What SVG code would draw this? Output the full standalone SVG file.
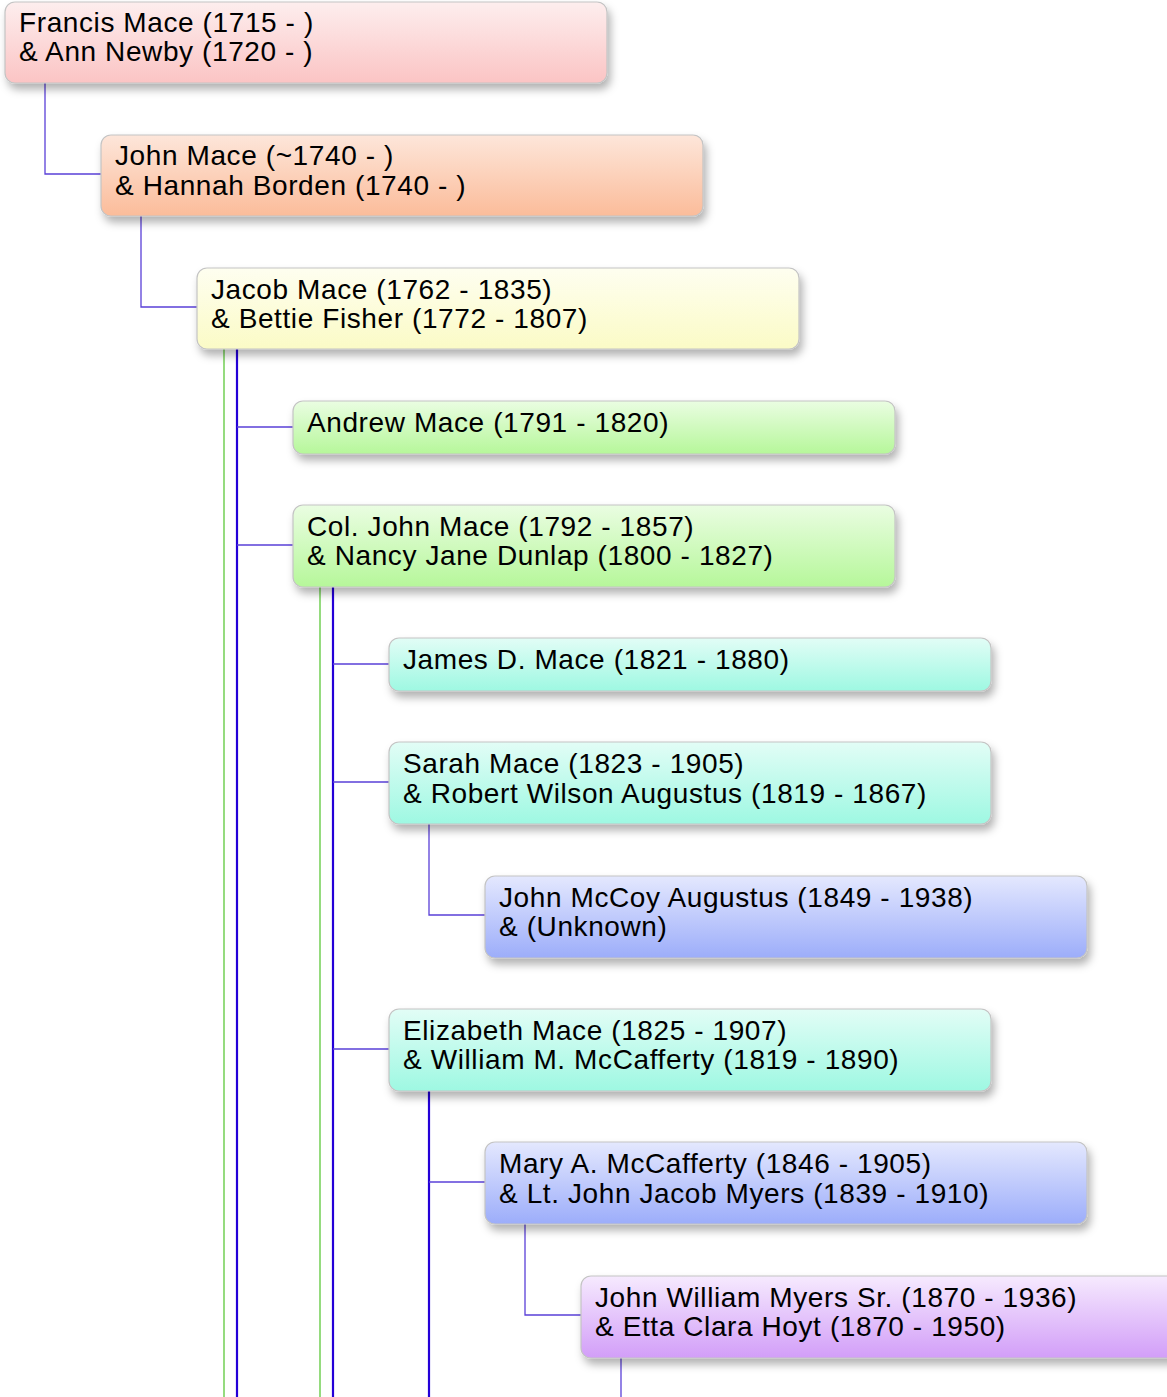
<svg xmlns="http://www.w3.org/2000/svg" width="1167" height="1397" viewBox="0 0 1167 1397">
<style>
text{font-family:"Liberation Sans",Arial,sans-serif;font-size:28px;letter-spacing:0.6px;fill:#000}
.box{stroke:#c4c4c4;stroke-width:1.2}
.thin{stroke:#5a40d8;stroke-width:1.3;fill:none}
.thick{stroke:#2400d8;stroke-width:2.2;fill:none}
.green{stroke:#5cc83a;stroke-width:1.3;fill:none}
</style>
<defs>
<filter id="sh" x="-5%" y="-20%" width="115%" height="160%"><feDropShadow dx="3" dy="6" stdDeviation="4" flood-color="#000" flood-opacity="0.3"/></filter>
<linearGradient id="gPink" x1="0" y1="0" x2="0" y2="1"><stop offset="0" stop-color="#fdeeee"/><stop offset="1" stop-color="#fbc4c4"/></linearGradient>
<linearGradient id="gOrange" x1="0" y1="0" x2="0" y2="1"><stop offset="0" stop-color="#fde6da"/><stop offset="1" stop-color="#fbbc9a"/></linearGradient>
<linearGradient id="gYellow" x1="0" y1="0" x2="0" y2="1"><stop offset="0" stop-color="#fefef0"/><stop offset="1" stop-color="#fbfbc6"/></linearGradient>
<linearGradient id="gGreen" x1="0" y1="0" x2="0" y2="1"><stop offset="0" stop-color="#eafde2"/><stop offset="1" stop-color="#b6f79a"/></linearGradient>
<linearGradient id="gCyan" x1="0" y1="0" x2="0" y2="1"><stop offset="0" stop-color="#e2fdf6"/><stop offset="1" stop-color="#9ef8e2"/></linearGradient>
<linearGradient id="gBlue" x1="0" y1="0" x2="0" y2="1"><stop offset="0" stop-color="#e4e8fe"/><stop offset="1" stop-color="#9cadfa"/></linearGradient>
<linearGradient id="gPurple" x1="0" y1="0" x2="0" y2="1"><stop offset="0" stop-color="#f6eafe"/><stop offset="1" stop-color="#d29ef8"/></linearGradient>
</defs>
<rect width="1167" height="1397" fill="#fff"/>
<g id="connectors">
<path class="thin" d="M45,83V174H101"/>
<path class="thin" d="M141,216V307H197"/>
<path class="green" d="M224,349V1397"/>
<path class="thick" d="M237,349V1397"/>
<path class="thin" d="M237,427H293M237,545H293"/>
<path class="green" d="M320,587V1397"/>
<path class="thick" d="M333,587V1397"/>
<path class="thin" d="M333,664H389M333,782H389M333,1049H389"/>
<path class="thin" d="M429,824V915H485"/>
<path class="thick" d="M429,1091V1397"/>
<path class="thin" d="M429,1182H485"/>
<path class="thin" d="M525,1224V1315H581"/>
<path class="thin" d="M621,1358V1397"/>
</g>
<g id="n1"><rect class="box" x="5" y="2" width="602" height="81" rx="10" fill="url(#gPink)" filter="url(#sh)"/><text x="19" y="32">Francis Mace (1715 - )</text><text x="19" y="61">&amp; Ann Newby (1720 - )</text></g>
<g id="n2"><rect class="box" x="101" y="135" width="602" height="81" rx="10" fill="url(#gOrange)" filter="url(#sh)"/><text x="115" y="165">John Mace (~1740 - )</text><text x="115" y="195">&amp; Hannah Borden (1740 - )</text></g>
<g id="n3"><rect class="box" x="197" y="268" width="602" height="81" rx="10" fill="url(#gYellow)" filter="url(#sh)"/><text x="211" y="299">Jacob Mace (1762 - 1835)</text><text x="211" y="328">&amp; Bettie Fisher (1772 - 1807)</text></g>
<g id="n4"><rect class="box" x="293" y="401" width="602" height="53" rx="10" fill="url(#gGreen)" filter="url(#sh)"/><text x="307" y="432">Andrew Mace (1791 - 1820)</text></g>
<g id="n5"><rect class="box" x="293" y="505" width="602" height="82" rx="10" fill="url(#gGreen)" filter="url(#sh)"/><text x="307" y="536">Col. John Mace (1792 - 1857)</text><text x="307" y="565">&amp; Nancy Jane Dunlap (1800 - 1827)</text></g>
<g id="n6"><rect class="box" x="389" y="638" width="602" height="53" rx="10" fill="url(#gCyan)" filter="url(#sh)"/><text x="403" y="669">James D. Mace (1821 - 1880)</text></g>
<g id="n7"><rect class="box" x="389" y="742" width="602" height="82" rx="10" fill="url(#gCyan)" filter="url(#sh)"/><text x="403" y="773">Sarah Mace (1823 - 1905)</text><text x="403" y="803">&amp; Robert Wilson Augustus (1819 - 1867)</text></g>
<g id="n8"><rect class="box" x="485" y="876" width="602" height="82" rx="10" fill="url(#gBlue)" filter="url(#sh)"/><text x="499" y="907">John McCoy Augustus (1849 - 1938)</text><text x="499" y="936">&amp; (Unknown)</text></g>
<g id="n9"><rect class="box" x="389" y="1009" width="602" height="82" rx="10" fill="url(#gCyan)" filter="url(#sh)"/><text x="403" y="1040">Elizabeth Mace (1825 - 1907)</text><text x="403" y="1069">&amp; William M. McCafferty (1819 - 1890)</text></g>
<g id="n10"><rect class="box" x="485" y="1142" width="602" height="82" rx="10" fill="url(#gBlue)" filter="url(#sh)"/><text x="499" y="1173">Mary A. McCafferty (1846 - 1905)</text><text x="499" y="1203">&amp; Lt. John Jacob Myers (1839 - 1910)</text></g>
<g id="n11"><rect class="box" x="581" y="1276" width="602" height="82" rx="10" fill="url(#gPurple)" filter="url(#sh)"/><text x="595" y="1307">John William Myers Sr. (1870 - 1936)</text><text x="595" y="1336">&amp; Etta Clara Hoyt (1870 - 1950)</text></g>
</svg>
